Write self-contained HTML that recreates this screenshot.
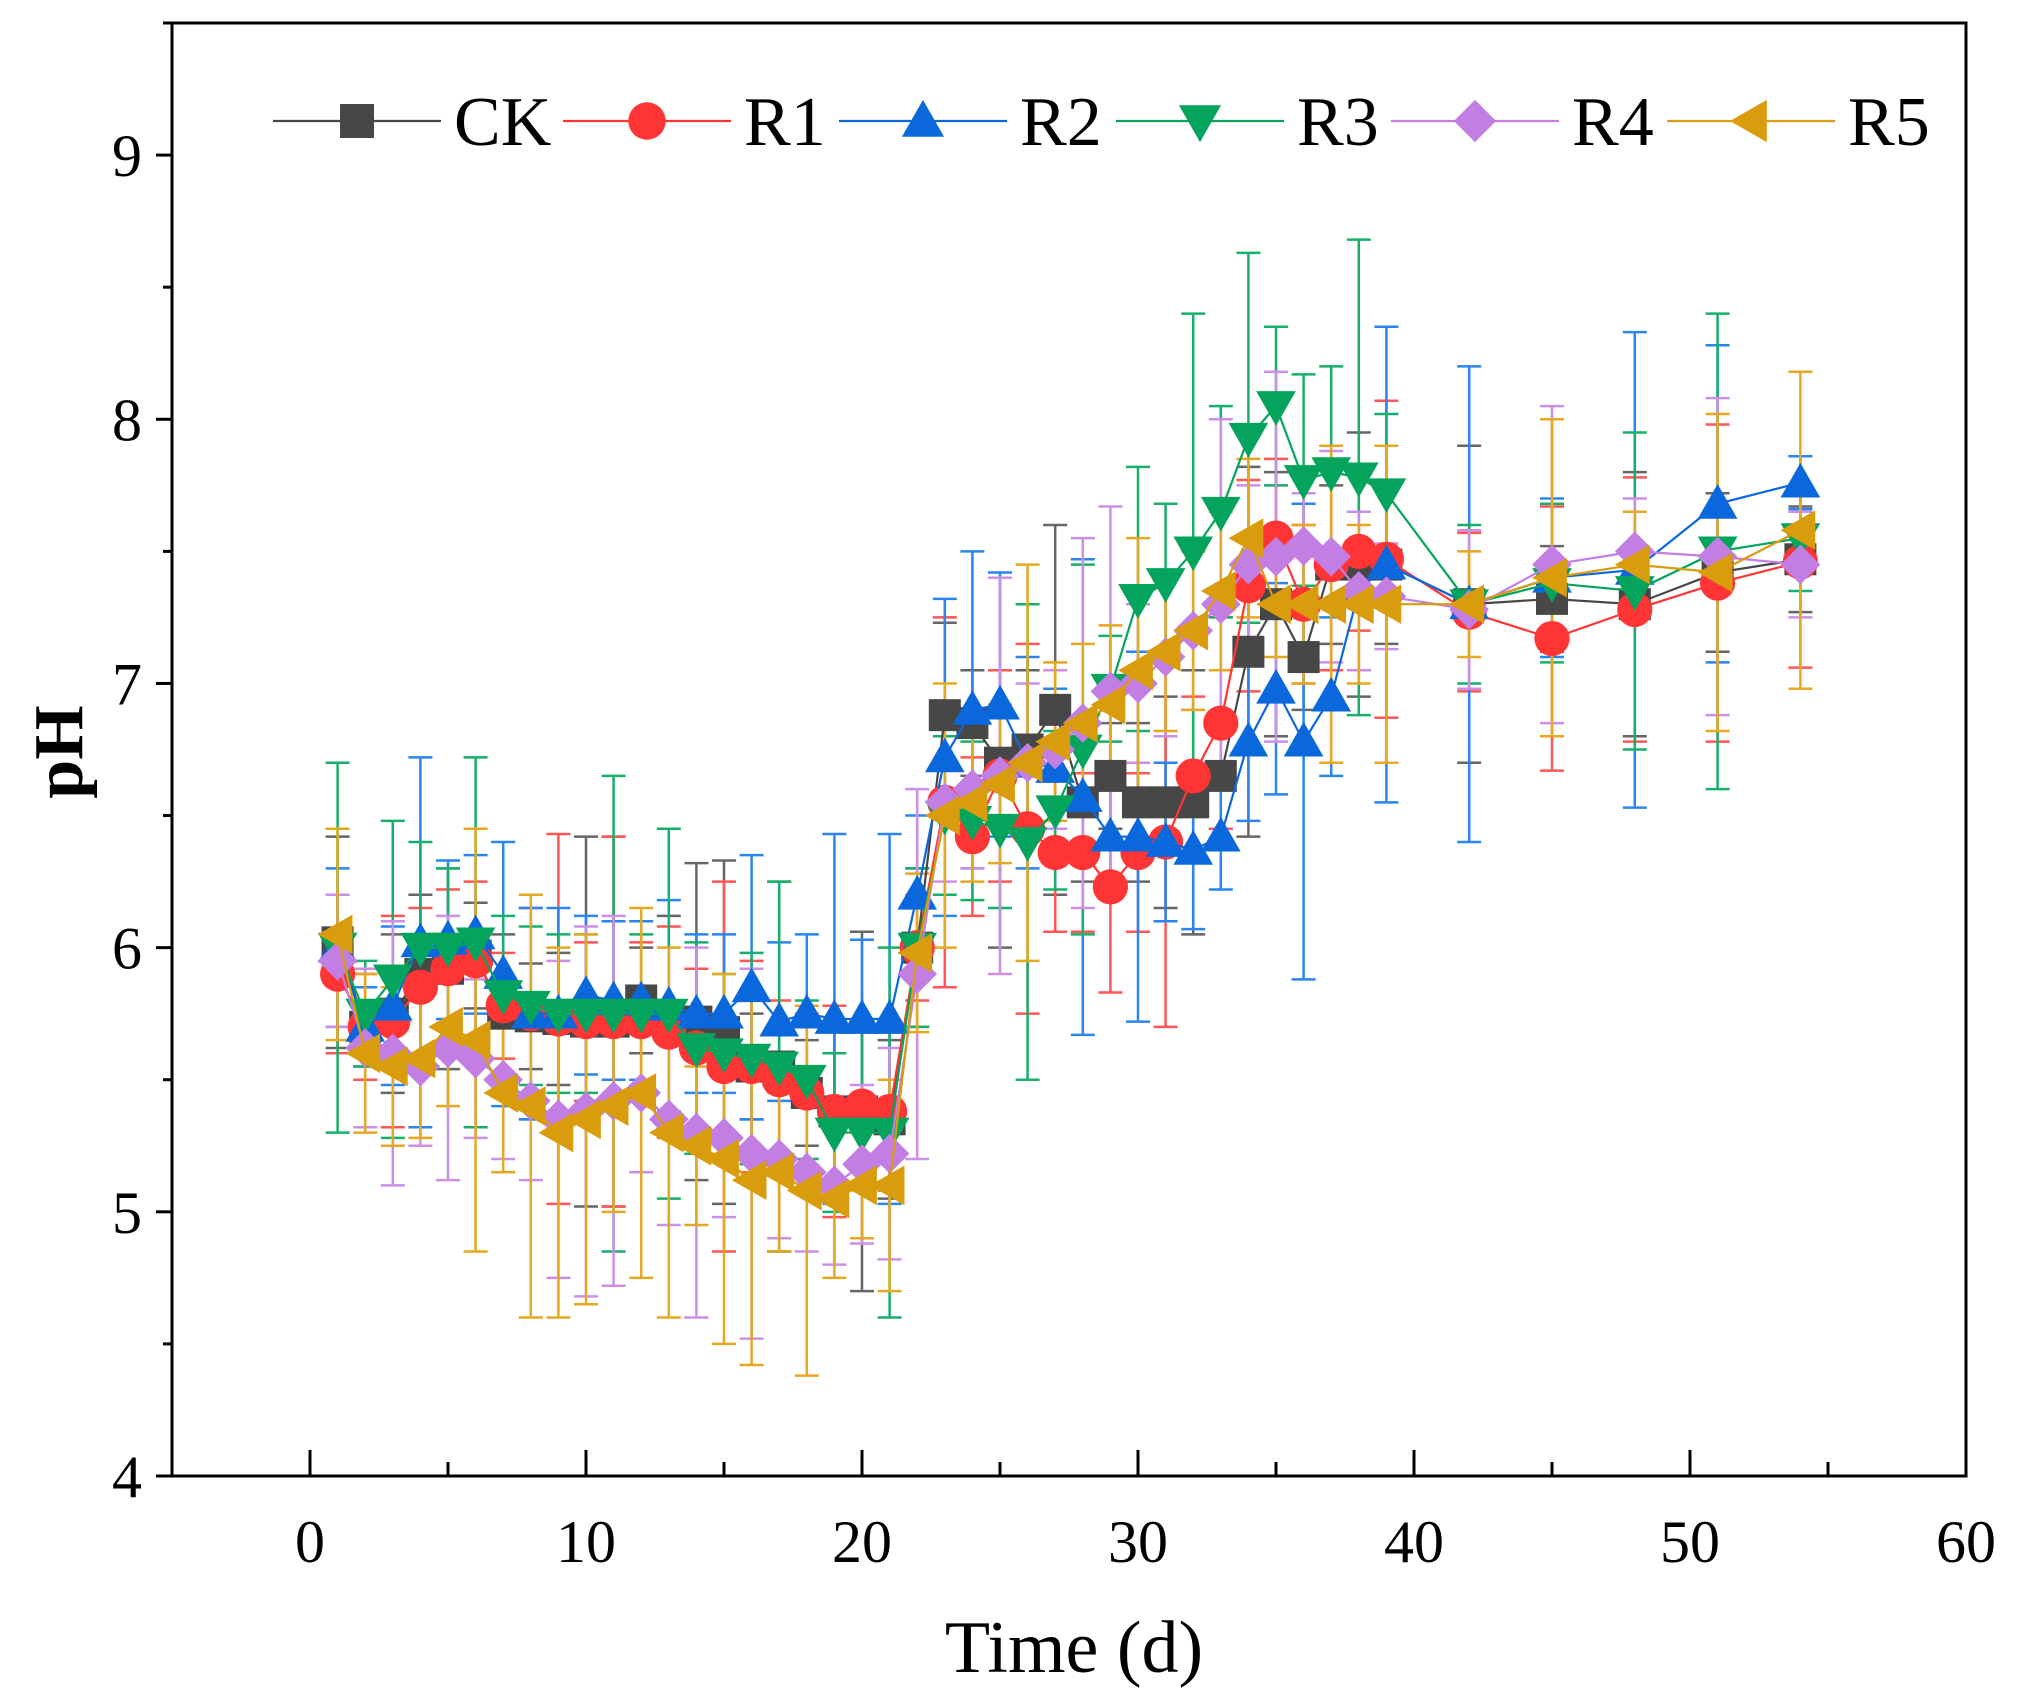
<!DOCTYPE html>
<html><head><meta charset="utf-8"><style>
html,body{margin:0;padding:0;background:#fff;}
svg{display:block;font-family:"Liberation Serif",serif;}
</style></head><body>
<svg id="chart" width="2019" height="1699" viewBox="0 0 2019 1699" xmlns="http://www.w3.org/2000/svg">
<rect x="172" y="23" width="1794" height="1453" fill="none" stroke="#000" stroke-width="3"/>
<g id="axes"></g>
<g id="errs"></g>
<g id="series"></g>
<g id="legend"></g>
<text x="1074" y="1672" font-size="74" text-anchor="middle">Time (d)</text>
<text x="0" y="0" font-size="70" font-weight="bold" text-anchor="middle" transform="translate(82,752) rotate(-90)">pH</text>
</svg>
<script>
const days = [1,2,3,4,5,6,7,8,9,10,11,12,13,14,15,16,17,18,19,20,21,22,23,24,25,26,27,28,29,30,31,32,33,34,35,36,37,38,39,42,45,48,51,54];
const seriesNames = ["CK","R1","R2","R3","R4","R5"];
const ckVals = [6.02,5.7,5.75,5.9,5.92,5.97,5.75,5.74,5.73,5.72,5.72,5.8,5.72,5.72,5.68,5.55,5.55,5.45,5.38,5.38,5.35,6.0,6.88,6.85,6.7,6.75,6.9,6.55,6.65,6.55,6.55,6.55,6.65,7.12,7.3,7.1,7.45,7.45,7.45,7.3,7.32,7.3,7.42,7.47];
const r1Vals = [5.9,5.7,5.72,5.85,5.92,5.95,5.78,5.75,5.73,5.72,5.72,5.72,5.68,5.62,5.55,5.55,5.5,5.45,5.38,5.4,5.38,6.0,6.55,6.42,6.65,6.45,6.36,6.36,6.23,6.36,6.4,6.65,6.85,7.37,7.55,7.3,7.45,7.5,7.47,7.27,7.17,7.28,7.38,7.46];
const r2Vals = [6.0,5.7,5.78,6.02,6.03,6.05,5.9,5.75,5.75,5.82,5.8,5.8,5.78,5.75,5.75,5.85,5.72,5.75,5.73,5.73,5.73,6.2,6.72,6.9,6.92,6.7,6.68,6.57,6.42,6.42,6.4,6.37,6.42,6.78,6.98,6.78,6.95,7.35,7.45,7.3,7.4,7.43,7.68,7.76];
const r3Vals = [6.0,5.75,5.88,6.0,6.0,6.02,5.82,5.78,5.75,5.75,5.75,5.75,5.75,5.62,5.6,5.58,5.55,5.5,5.3,5.3,5.3,6.0,6.5,6.48,6.45,6.4,6.52,6.75,6.98,7.32,7.38,7.5,7.65,7.93,8.05,7.77,7.8,7.78,7.72,7.3,7.38,7.35,7.5,7.55];
const r4Vals = [5.95,5.62,5.6,5.55,5.62,5.58,5.5,5.42,5.35,5.38,5.42,5.45,5.35,5.3,5.28,5.22,5.2,5.15,5.1,5.18,5.22,5.9,6.55,6.6,6.65,6.7,6.75,6.85,6.97,7.0,7.1,7.2,7.3,7.45,7.48,7.52,7.48,7.35,7.33,7.28,7.45,7.5,7.48,7.45];
const r5Vals = [6.05,5.6,5.55,5.58,5.7,5.65,5.45,5.4,5.3,5.35,5.4,5.45,5.3,5.25,5.2,5.12,5.15,5.08,5.05,5.1,5.1,5.98,6.5,6.55,6.62,6.7,6.78,6.85,6.92,7.05,7.12,7.2,7.35,7.55,7.3,7.3,7.3,7.3,7.3,7.3,7.4,7.45,7.42,7.58];
const ckErr = [0.4,0.1,0.3,0.3,0.38,0.2,0.3,0.2,0.25,0.7,0.7,0.2,0.4,0.6,0.65,0.2,0.7,0.2,0.3,0.68,0.3,0.3,0.35,0.2,0.7,0.3,0.7,0.3,0.2,0.3,0.4,0.5,0.2,0.7,0.5,0.2,0.3,0.5,0.3,0.6,0.2,0.5,0.3,0.2];
const r1Err = [0.3,0.2,0.4,0.3,0.3,0.3,0.2,0.4,0.7,0.3,0.7,0.3,0.4,0.3,0.7,0.4,0.3,0.3,0.4,0.3,0.3,0.2,0.7,0.3,0.4,0.7,0.3,0.3,0.4,0.3,0.7,0.3,0.4,0.4,0.3,0.3,0.4,0.3,0.6,0.3,0.5,0.5,0.6,0.4];
const r2Err = [0.3,0.15,0.3,0.7,0.3,0.3,0.5,0.4,0.4,0.3,0.3,0.3,0.4,0.3,0.3,0.5,0.3,0.3,0.7,0.3,0.7,0.3,0.6,0.6,0.5,0.4,0.3,0.9,0.2,0.7,0.3,0.3,0.2,0.3,0.4,0.9,0.3,0.3,0.9,0.9,0.3,0.9,0.6,0.1];
const r3Err = [0.7,0.2,0.6,0.4,0.3,0.7,0.3,0.3,0.3,0.3,0.9,0.3,0.7,0.4,0.3,0.4,0.7,0.3,0.3,0.4,0.7,0.3,0.3,0.3,0.3,0.9,0.3,0.7,0.2,0.5,0.3,0.9,0.4,0.7,0.3,0.4,0.4,0.9,0.3,0.3,0.3,0.6,0.9,0.2];
const r4Err = [0.25,0.3,0.5,0.3,0.5,0.3,0.3,0.3,0.6,0.7,0.7,0.3,0.4,0.7,0.3,0.7,0.3,0.3,0.3,0.3,0.4,0.7,0.3,0.3,0.75,0.3,0.3,0.7,0.7,0.3,0.3,0.3,0.7,0.3,0.7,0.2,0.4,0.3,0.2,0.3,0.6,0.2,0.6,0.2];
const r5Err = [0.4,0.3,0.3,0.3,0.3,0.8,0.3,0.8,0.7,0.7,0.4,0.7,0.7,0.3,0.7,0.7,0.3,0.7,0.3,0.2,0.4,0.3,0.5,0.3,0.3,0.75,0.3,0.3,0.3,0.5,0.3,0.3,0.3,0.3,0.2,0.3,0.6,0.3,0.6,0.2,0.6,0.2,0.6,0.6];
const xTicks = [0,10,20,30,40,50,60];
const yTicks = [4,5,6,7,8,9];

const NS = "http://www.w3.org/2000/svg";
const X0=172, X1=1966, Y0=1476, Y1=23, XMIN=-5, XMAX=60, YMIN=4, YMAX=9.5;
function xs(d){return X0+(d-XMIN)*(X1-X0)/(XMAX-XMIN);}
function ys(v){return Y0-(v-YMIN)*(Y0-Y1)/(YMAX-YMIN);}
function mk(tag,attrs,parent){const e=document.createElementNS(NS,tag);for(const k in attrs)e.setAttribute(k,attrs[k]);parent.appendChild(e);return e;}

const axes=document.getElementById('axes');
xTicks.forEach(t=>{
  const l=mk('line',{x1:xs(t),x2:xs(t),y1:Y0,y2:Y0-26,stroke:'#000','stroke-width':3},axes);
  
  
  const tx=mk('text',{x:xs(t),y:1562,'font-size':60,'text-anchor':'middle'},axes);
  tx.textContent=t;
  
  
  if(t+5<60){const m=mk('line',{x1:xs(t+5),x2:xs(t+5),y1:Y0,y2:Y0-14,stroke:'#000','stroke-width':3},axes);
  
  }
});
yTicks.forEach(t=>{
  const l=mk('line',{x1:X0,x2:X0-16,y1:ys(t),y2:ys(t),stroke:'#000','stroke-width':3},axes);
  
  
  const tx=mk('text',{x:142,y:ys(t)+21,'font-size':60,'text-anchor':'end'},axes);
  tx.textContent=t;
  
  
  if(t<9.5){const m=mk('line',{x1:X0,x2:X0-9,y1:ys(t+0.5),y2:ys(t+0.5),stroke:'#000','stroke-width':3},axes);
  
  }
});

const vals=[ckVals,r1Vals,r2Vals,r3Vals,r4Vals,r5Vals];
const errs=[ckErr,r1Err,r2Err,r3Err,r4Err,r5Err];
const colors=['#474747','#ff3535','#0a68dc','#05a45c','#c27ee2','#d89c0c'];
const ecolors=['#666','#ff5555','#2a85f0','#17b06a','#cc8fe8','#e5a820'];
const shapes=['square','circle','up','down','diamond','left'];

function marker(g,shape,cx,cy,s,color){
  let e;
  if(shape==='square') e=mk('rect',{x:cx-s/2,y:cy-s/2,width:s,height:s,fill:color},g);
  else if(shape==='circle') e=mk('circle',{cx:cx,cy:cy,r:s*0.55,fill:color},g);
  else {
    const h=s*0.62;let p;
    if(shape==='up') p=[[cx,cy-h],[cx+h,cy+h*0.75],[cx-h,cy+h*0.75]];
    else if(shape==='down') p=[[cx,cy+h],[cx+h,cy-h*0.75],[cx-h,cy-h*0.75]];
    else if(shape==='left') p=[[cx-h,cy],[cx+h*0.75,cy-h],[cx+h*0.75,cy+h]];
    else p=[[cx,cy-h],[cx+h,cy],[cx,cy+h],[cx-h,cy]];
    e=mk('polygon',{points:p.map(q=>q.join(',')).join(' '),fill:color},g);
  }
  return e;
}

const eg=document.getElementById('errs');
vals.forEach((v,si)=>{
  days.forEach((d,i)=>{
    const x=xs(d),yt=ys(v[i]+errs[si][i]),yb=ys(v[i]-errs[si][i]);
    const g=mk('g',{stroke:ecolors[si],'stroke-width':2.5},eg);
    
    
    mk('line',{x1:x,x2:x,y1:yt,y2:yb},g);
    mk('line',{x1:x-12,x2:x+12,y1:yt,y2:yt},g);
    mk('line',{x1:x-12,x2:x+12,y1:yb,y2:yb},g);
  });
});

const sg=document.getElementById('series');
vals.forEach((v,si)=>{
  const g=mk('g',{},sg);
  
  
  const pl=mk('polyline',{points:days.map((d,i)=>xs(d)+','+ys(v[i])).join(' '),fill:'none',stroke:colors[si],'stroke-width':2.2},g);
  
  
  days.forEach((d,i)=>{
    const m=marker(g,shapes[si],xs(d),ys(v[i]),32,colors[si]);
    
    
  });
});

const lg=document.getElementById('legend');
const legX=[273,563,839,1116,1391,1667];
legX.forEach((lx,si)=>{
  const g=mk('g',{},lg);
  
  
  mk('line',{x1:lx,x2:lx+168,y1:121,y2:121,stroke:colors[si],'stroke-width':2.2},g);
  marker(g,shapes[si],lx+84,121,34,colors[si]);
  const t=mk('text',{x:lx+181,y:145,'font-size':70},g);
  t.textContent=seriesNames[si];
});
</script>
</body></html>
